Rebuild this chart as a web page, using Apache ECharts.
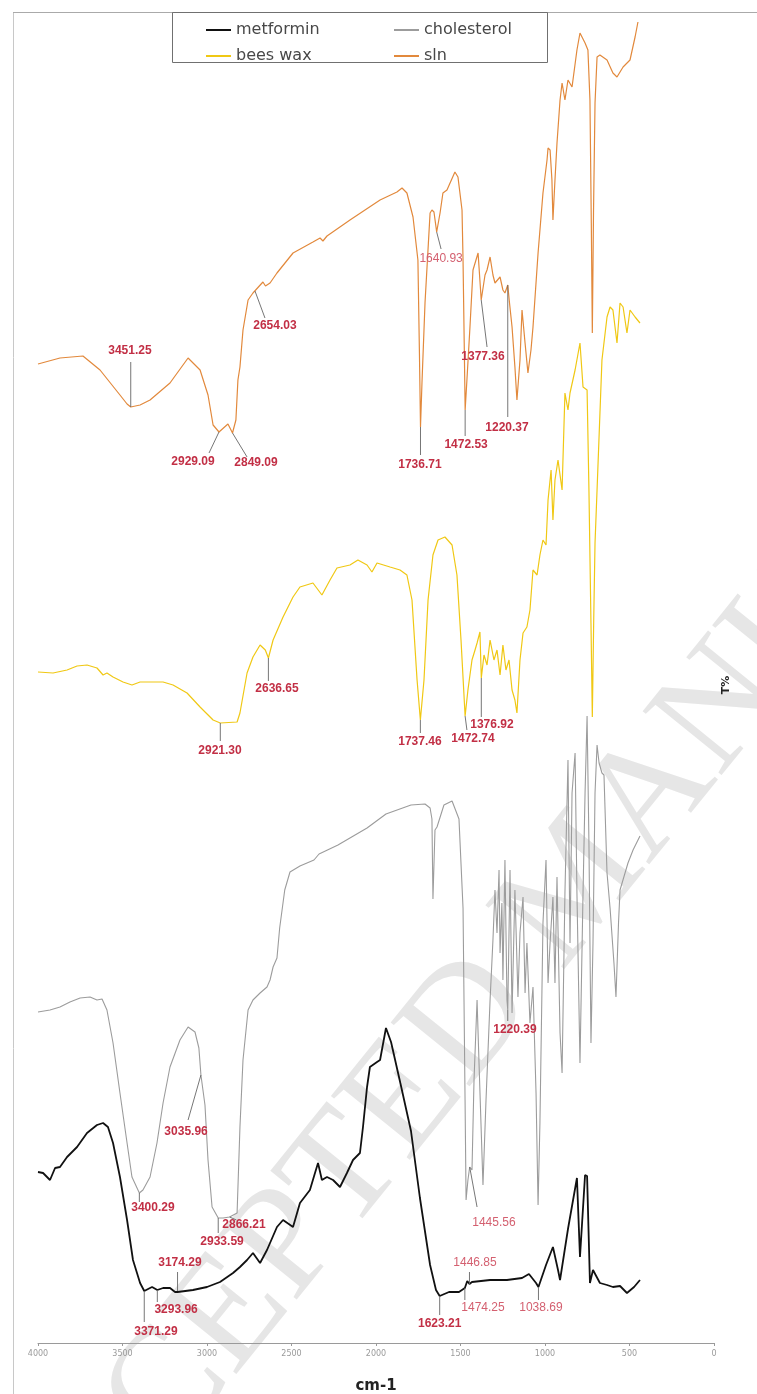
<!DOCTYPE html>
<html>
<head>
<meta charset="utf-8">
<title>FTIR spectra</title>
<script src="https://cdn.jsdelivr.net/npm/echarts@6/dist/echarts.min.js"></script>
<style>
  html, body { margin: 0; padding: 0; background: #fff; }
  #chart { width: 757px; height: 1394px; }
</style>
</head>
<body>
<div id="chart"></div>
<script>
// Spectra as [wavenumber (cm-1), transmittance (stacked, arbitrary units)]
const metformin = [
  [4000,17.1],[3970,17.0],[3929,16.3],[3899,17.5],[3870,17.6],[3828,18.6],[3769,19.6],[3710,21.0],
  [3651,21.8],[3615,22.0],[3586,21.6],[3556,20.0],[3515,16.6],[3473,12.3],[3438,8.3],[3396,6.0],
  [3371.29,5.2],[3337,5.5],[3325,5.6],[3293.96,5.3],[3260,5.5],[3219,5.5],[3189,5.1],[3174.29,5.1],
  [3083,5.3],[3000,5.6],[2923,6.1],[2846,7.0],[2805,7.6],[2763,8.3],[2728,9.0],[2686,8.0],[2645,9.3],
  [2586,11.6],[2550,12.3],[2491,11.6],[2450,14.0],[2391,15.3],[2361,17.0],[2343,18.0],[2320,16.3],
  [2290,16.6],[2254,16.3],[2213,15.6],[2172,17.0],[2136,18.3],[2095,19.0],[2077,21.6],[2053,25.6],
  [2036,27.6],[1994,28.1],[1976,28.3],[1941,31.5],[1911,30.1],[1852,25.7],[1793,21.2],[1740,14.5],
  [1680,7.8],[1645,5.3],[1623.21,4.7],[1568,5.1],[1509,5.1],[1474.25,5.5],[1460,6.2],[1446.85,5.9],
  [1432,6.1],[1325,6.3],[1225,6.3],[1136,6.5],[1095,6.9],[1053,6.0],[1038.69,5.6],[994,7.8],[953,9.6],
  [923,7.3],[911,6.3],[864,11.4],[811,16.5],[793,8.6],[763,16.8],[751,16.7],[734,6.0],[716,7.3],
  [675,6.0],[633,5.8],[598,5.6],[556,5.7],[515,5.0],[473,5.6],[438,6.3]
];

const cholesterol = [
  [4000,33.1],[3929,33.3],[3870,33.6],[3811,34.1],[3751,34.5],[3692,34.6],[3651,34.3],[3621,34.4],
  [3592,33.3],[3556,30.0],[3515,25.0],[3473,20.0],[3444,16.6],[3400.29,15.0],[3379,15.3],[3337,16.6],
  [3296,20.0],[3260,24.0],[3219,27.6],[3160,30.3],[3112,31.6],[3071,31.1],[3048,29.5],[3035.96,26.8],
  [3024,25.3],[3012,23.8],[2994,18.3],[2970,13.6],[2933.59,12.5],[2905,12.5],[2866.21,12.6],[2822,13.0],
  [2805,21.6],[2787,28.3],[2757,33.3],[2728,34.3],[2686,35.0],[2645,35.6],[2627,36.3],[2609,37.6],
  [2586,38.5],[2570,41.5],[2540,45.3],[2509,47.1],[2450,47.7],[2367,48.3],[2337,48.9],[2225,49.8],
  [2053,51.5],[1941,52.9],[1793,53.8],[1710,53.9],[1680,53.5],[1669,52.4],[1663,44.4],[1651,51.3],
  [1639,51.6],[1598,53.8],[1550,54.2],[1509,52.4],[1485,43.5],[1473,24.3],[1467,14.3],[1456,16.3],
  [1445.56,17.6],[1432,17.3],[1420,26.3],[1402,34.3],[1391,28.3],[1367,15.8],[1349,24.3],[1325,34.3],
  [1308,40.3],[1296,45.3],[1284,41.0],[1272,47.3],[1266,39.0],[1255,44.0],[1249,36.3],[1237,48.3],
  [1225,34.3],[1220.39,33.3],[1207,47.3],[1195,33.0],[1178,45.3],[1160,34.6],[1148,41.0],[1130,44.6],
  [1118,35.0],[1107,40.0],[1089,32.0],[1071,35.6],[1053,25.0],[1041,13.8],[1030,22.0],[1012,42.0],
  [994,48.3],[982,36.0],[970,40.0],[953,44.6],[941,36.0],[929,46.6],[911,31.0],[899,27.0],[882,45.0],
  [864,58.3],[852,40.0],[840,55.0],[822,59.0],[811,45.0],[793,28.0],[775,45.0],[763,55.0],[751,62.7],
  [740,50.0],[728,30.0],[716,40.0],[704,55.0],[692,59.8],[680,58.0],[663,57.0],[651,56.8],[633,47.0],
  [615,43.5],[592,38.0],[580,34.6],[565,42.0],[556,45.3],[509,48.0],[479,49.3],[438,50.7]
];

const beesWax = [
  [4000,67.1],[3911,67.0],[3828,67.3],[3769,67.7],[3710,67.8],[3651,67.5],[3615,66.8],[3592,67.0],
  [3556,66.6],[3497,66.1],[3444,65.8],[3396,66.1],[3260,66.1],[3201,65.8],[3118,65.0],[3041,63.6],
  [2964,62.3],[2921.30,62.0],[2822,62.1],[2805,63.0],[2763,67.0],[2728,68.6],[2686,69.8],[2655,69.3],
  [2636.65,68.5],[2609,70.3],[2550,72.6],[2491,74.6],[2450,75.6],[2373,76.0],[2320,74.8],[2272,76.3],
  [2231,77.5],[2154,77.8],[2107,78.3],[2053,77.8],[2024,77.1],[1994,78.0],[1917,77.6],[1858,77.3],
  [1817,76.8],[1787,74.3],[1757,66.3],[1737.46,62.3],[1716,66.3],[1692,74.3],[1663,78.8],[1633,80.3],
  [1592,80.6],[1550,79.8],[1521,76.8],[1497,70.3],[1472.74,62.7],[1456,65.3],[1432,68.3],[1414,69.3],
  [1402,70.0],[1385,71.1],[1376.92,66.5],[1361,68.8],[1343,67.8],[1325,70.3],[1302,68.3],[1284,69.3],
  [1266,66.8],[1249,69.8],[1231,67.3],[1213,68.3],[1195,65.3],[1178,64.3],[1166,63.0],[1148,68.3],
  [1130,71.0],[1107,71.6],[1089,73.3],[1071,77.3],[1047,76.8],[1030,78.8],[1012,80.3],[994,79.8],
  [982,84.3],[964,87.3],[953,82.3],[941,86.3],[923,88.3],[899,85.3],[882,95.0],[864,93.3],[852,95.0],
  [822,97.3],[793,100.0],[775,95.6],[751,95.3],[740,85.3],[728,72.0],[720,62.6],[712,72.0],[704,80.0],
  [692,85.3],[663,98.3],[633,102.6],[615,103.6],[598,103.3],[574,100.0],[556,104.0],[538,103.6],
  [515,101.0],[497,103.3],[467,102.6],[438,102.0]
];

const sln = [
  [4000,97.9],[3870,98.5],[3734,98.7],[3633,97.3],[3515,94.8],[3473,93.9],[3451.25,93.6],[3396,93.8],
  [3337,94.3],[3219,96.0],[3112,98.5],[3041,97.3],[2994,94.8],[2964,91.8],[2929.09,91.1],[2876,91.9],
  [2849.09,91.0],[2829,92.3],[2817,96.3],[2805,97.6],[2787,101.3],[2757,104.3],[2728,105.0],[2669,106.1],
  [2654.03,105.7],[2627,106.0],[2586,107.0],[2491,109.0],[2373,110.1],[2331,110.5],[2314,110.2],
  [2290,110.7],[2154,112.3],[1976,114.3],[1876,115.1],[1846,115.5],[1817,115.0],[1781,112.6],
  [1752,108.3],[1743,99.0],[1736.71,91.6],[1728,96.0],[1710,104.0],[1690,110.0],[1680,113.0],
  [1669,113.3],[1657,113.1],[1640.93,111.1],[1621,113.0],[1604,115.0],[1580,115.3],[1533,117.1],
  [1515,116.6],[1491,113.3],[1485,108.3],[1478,100.0],[1472.53,93.3],[1462,96.3],[1444,101.6],
  [1426,107.3],[1396,109.0],[1377.36,104.3],[1355,106.8],[1343,107.3],[1325,108.6],[1308,106.8],
  [1296,106.0],[1266,106.6],[1249,105.3],[1237,105.0],[1220.37,105.8],[1210,104.0],[1195,101.6],
  [1178,97.6],[1166,94.3],[1148,98.3],[1136,103.3],[1118,100.0],[1101,97.0],[1083,99.3],[1071,101.6],
  [1041,109.0],[1012,115.0],[988,118.3],[982,119.5],[970,119.3],[959,116.3],[953,112.3],[941,116.3],
  [929,120.0],[911,124.3],[899,126.0],[882,124.3],[864,126.3],[840,125.6],[811,129.3],[793,131.0],
  [763,130.0],[746,129.3],[734,124.3],[726,112.0],[720,101.0],[713,113.0],[704,124.0],[692,128.6],
  [675,128.8],[633,128.3],[598,127.0],[574,126.6],[538,127.6],[497,128.3],[467,130.6],[450,132.1]
];

const seriesNames = ['metformin', 'cholesterol', 'bees wax', 'sln'];
const seriesData = [metformin, cholesterol, beesWax, sln];
const seriesColors = ['#111111', '#9c9c9c', '#f0c814', '#e2893c'];
const seriesWidths = [1.8, 1.1, 1.2, 1.2];

// Peak annotations: picked wavenumber, connector tip, connector end, label centre
const peakNotes = [
  // sln
  { wn: 3451.25, tip: [3451.25, 93.6], end: [3451.25, 98.1], at: [3456, 99.2] },
  { wn: 2929.09, tip: [2929.09, 91.1], end: [2988, 89.0], at: [3083, 88.1] },
  { wn: 2849.09, tip: [2849.09, 91.0], end: [2763, 88.6], at: [2710, 88.0] },
  { wn: 2654.03, tip: [2716, 105.2], end: [2657, 102.5], at: [2598, 101.7] },
  { wn: 1640.93, tip: [1640.93, 111.1], end: [1615, 109.4], at: [1615, 108.4], soft: true },
  { wn: 1736.71, tip: [1736.71, 91.6], end: [1736.71, 88.8], at: [1740, 87.8] },
  { wn: 1472.53, tip: [1472.53, 93.3], end: [1472.53, 90.7], at: [1467, 89.8] },
  { wn: 1377.36, tip: [1377.36, 104.3], end: [1343, 99.6], at: [1367, 98.6] },
  { wn: 1220.37, tip: [1220.37, 105.8], end: [1220.37, 92.6], at: [1225, 91.5] },
  // bees wax
  { wn: 2921.30, tip: [2921.30, 62.0], end: [2921.30, 60.2], at: [2923, 59.2] },
  { wn: 2636.65, tip: [2636.65, 68.5], end: [2636.65, 66.2], at: [2586, 65.4] },
  { wn: 1737.46, tip: [1737.46, 62.3], end: [1737.46, 61.0], at: [1740, 60.1] },
  { wn: 1472.74, tip: [1472.74, 62.7], end: [1462, 61.3], at: [1426, 60.4] },
  { wn: 1376.92, tip: [1376.92, 66.5], end: [1376.92, 62.6], at: [1314, 61.8] },
  // cholesterol
  { wn: 3400.29, tip: [3400.29, 15.0], end: [3400.29, 14.1], at: [3320, 13.5] },
  { wn: 3035.96, tip: [3035.96, 26.8], end: [3112, 22.3], at: [3124, 21.1] },
  { wn: 2933.59, tip: [2933.59, 12.5], end: [2933.59, 11.0], at: [2911, 10.1] },
  { wn: 2866.21, tip: [2866.21, 12.6], end: [2826, 12.3], at: [2781, 11.8] },
  { wn: 1445.56, tip: [1445.56, 17.6], end: [1402, 13.6], at: [1302, 12.0], soft: true },
  { wn: 1220.39, tip: [1220.39, 33.3], end: [1220.39, 32.2], at: [1178, 31.3] },
  // metformin
  { wn: 3371.29, tip: [3371.29, 5.2], end: [3371.29, 2.1], at: [3302, 1.1] },
  { wn: 3293.96, tip: [3293.96, 5.3], end: [3293.96, 4.1], at: [3183, 3.3] },
  { wn: 3174.29, tip: [3174.29, 5.2], end: [3174.29, 7.1], at: [3160, 8.0] },
  { wn: 1623.21, tip: [1623.21, 4.7], end: [1623.21, 2.8], at: [1623, 1.9] },
  { wn: 1474.25, tip: [1474.25, 5.5], end: [1474.25, 4.3], at: [1367, 3.5], soft: true },
  { wn: 1446.85, tip: [1446.85, 5.9], end: [1446.85, 7.1], at: [1414, 8.0], soft: true },
  { wn: 1038.69, tip: [1038.69, 5.6], end: [1038.69, 4.3], at: [1024, 3.5], soft: true }
];

const chart = echarts.init(document.getElementById('chart'), null, { renderer: 'canvas' });

const lineSeries = seriesNames.map((name, i) => ({
  name,
  type: 'line',
  data: seriesData[i],
  symbol: 'none',
  smooth: false,
  z: 3 + i,
  lineStyle: { color: seriesColors[i], width: seriesWidths[i] },
  itemStyle: { color: seriesColors[i] }
}));

const noteSeries = {
  type: 'custom',
  name: 'peaks',
  z: 10,
  silent: true,
  data: peakNotes.map(n => [n.tip[0], n.tip[1]]),
  renderItem: (params, api) => {
    const n = peakNotes[params.dataIndex];
    const a = api.coord(n.tip);
    const b = api.coord(n.end);
    const c = api.coord(n.at);
    return {
      type: 'group',
      children: [
        { type: 'line', shape: { x1: a[0], y1: a[1], x2: b[0], y2: b[1] },
          style: { stroke: '#666', lineWidth: 0.9 } },
        { type: 'text', x: c[0], y: c[1],
          style: { text: n.wn.toFixed(2), fill: n.soft ? '#d46070' : '#c22f45',
                   font: (n.soft ? 'normal ' : 'bold ') + '12px "Liberation Sans"',
                   align: 'center', verticalAlign: 'middle' } }
      ]
    };
  }
};

const legendText = { fontFamily: 'DejaVu Sans', fontSize: 16, color: '#484848', lineHeight: 14 };
const legendCommon = {
  orient: 'vertical', top: 22, padding: 0, itemWidth: 25, itemHeight: 14, itemGap: 10,
  textStyle: legendText, selectedMode: false,
  itemStyle: { opacity: 0 }
};

chart.setOption({
  animation: false,
  backgroundColor: '#ffffff',
  grid: { left: 38, right: 43, top: 13, bottom: 51, outerBoundsMode: 'none' },
  xAxis: {
    type: 'value', min: 0, max: 4000, interval: 500, inverse: true,
    name: 'cm-1', nameLocation: 'middle', nameGap: 36,
    nameTextStyle: { fontFamily: 'DejaVu Sans', fontSize: 15, fontWeight: 'bold', color: '#222' },
    axisLine: { lineStyle: { color: '#9a9a9a', width: 1 } },
    axisTick: { length: 3, lineStyle: { color: '#9a9a9a' } },
    axisLabel: { fontFamily: 'DejaVu Sans', fontSize: 8, color: '#9a9a9a', margin: 7,
                 formatter: v => String(v) },
    splitLine: { show: false }
  },
  yAxis: { type: 'value', min: 0, max: 133, show: false },
  legend: [
    Object.assign({ data: ['metformin', 'bees wax'], left: 205 }, legendCommon),
    Object.assign({ data: ['cholesterol', 'sln'], left: 393 }, legendCommon)
  ],
  graphic: [
    { type: 'text', z: 0, x: 580, y: 885, rotation: 51 * Math.PI / 180, silent: true,
      style: { text: 'ACCEPTED MANUSCRIPT', font: '155px "Liberation Serif"', fill: '#e6e6e6',
               align: 'center', verticalAlign: 'middle' } },
    { type: 'line', z: 1, silent: true, shape: { x1: 13.5, y1: 12, x2: 13.5, y2: 1394 },
      style: { stroke: '#c8c8c8', lineWidth: 1 } },
    { type: 'line', z: 1, silent: true, shape: { x1: 13, y1: 12.5, x2: 757, y2: 12.5 },
      style: { stroke: '#aaaaaa', lineWidth: 1 } },
    { type: 'rect', z: 1, silent: true, shape: { x: 172.5, y: 12.5, width: 375, height: 50 },
      style: { fill: 'rgba(255,255,255,0)', stroke: '#707070', lineWidth: 1 } },
    { type: 'text', z: 1, x: 726, y: 685, rotation: Math.PI / 2, silent: true,
      style: { text: 'T%', font: 'bold 11px "DejaVu Sans"', fill: '#222',
               align: 'center', verticalAlign: 'middle' } }
  ],
  series: [...lineSeries, noteSeries]
});
</script>
</body>
</html>
